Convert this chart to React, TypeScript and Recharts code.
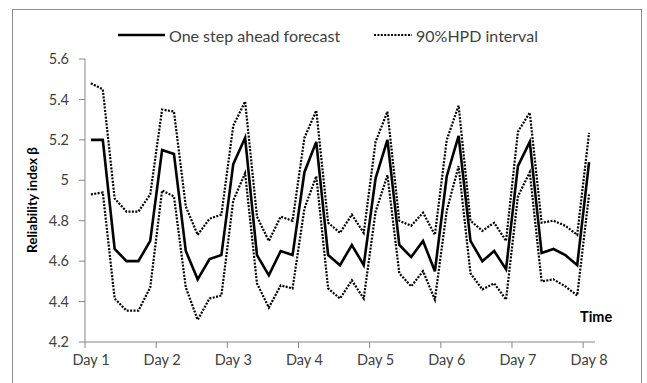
import React from "react";
import { LineChart, Line, XAxis, YAxis } from "recharts";

const dayLabels = ["Day 1", "Day 2", "Day 3", "Day 4", "Day 5", "Day 6", "Day 7", "Day 8"];
const dayTicks = [-0.5, 5.5, 11.5, 17.5, 23.5, 29.5, 35.5, 41.5];
const yTicks = [4.2, 4.4, 4.6, 4.8, 5.0, 5.2, 5.4, 5.6];

const forecast = [
  5.2, 5.2, 4.66, 4.6, 4.6, 4.7,
  5.15, 5.13, 4.65, 4.51, 4.61, 4.63,
  5.08, 5.21, 4.63, 4.53, 4.65, 4.63,
  5.04, 5.19, 4.63, 4.58, 4.68, 4.58,
  5.01, 5.2, 4.68, 4.62, 4.7, 4.55,
  5.02, 5.22, 4.7, 4.6, 4.65, 4.56,
  5.07, 5.19, 4.64, 4.66, 4.63, 4.58,
  5.09,
];
const upper = [
  5.48, 5.45, 4.91, 4.845, 4.845, 4.93,
  5.35, 5.34, 4.87, 4.73, 4.81, 4.83,
  5.27, 5.39, 4.82, 4.7, 4.82, 4.8,
  5.21, 5.345, 4.79, 4.74, 4.83, 4.74,
  5.19, 5.34, 4.8, 4.775, 4.84, 4.73,
  5.2, 5.37, 4.8, 4.75, 4.79, 4.7,
  5.24, 5.335, 4.79, 4.8, 4.775, 4.73,
  5.235,
];
const lower = [
  4.93, 4.94, 4.415, 4.355, 4.355, 4.47,
  4.95, 4.92, 4.47, 4.31, 4.415, 4.43,
  4.9, 5.035, 4.49, 4.37, 4.48, 4.465,
  4.86, 5.02, 4.465, 4.415, 4.505, 4.415,
  4.845, 5.025, 4.54, 4.475, 4.55, 4.41,
  4.85, 5.07, 4.54, 4.46, 4.49, 4.41,
  4.92, 5.04, 4.5, 4.51, 4.475, 4.43,
  4.93,
];

const data = forecast.map((f, i) => ({ x: i, forecast: f, upper: upper[i], lower: lower[i] }));

const FONT = "Lato, 'Open Sans', sans-serif";
const AXIS = "#868686";
const TXT = "#404040";

export default function App() {
  return (
    <div style={{ position: "absolute", left: 0, top: 0, width: 647, height: 383, background: "#fff", overflow: "hidden", fontFamily: FONT }}>
      <div style={{ position: "absolute", left: 12, top: 9, width: 630, height: 400, border: "1px solid #8c8c8c", boxSizing: "border-box" }} />
      <div style={{ position: "absolute", left: 0, top: 0 }}>
        <LineChart width={647} height={383} data={data} margin={{ top: 59, right: 52, bottom: 0, left: 0 }}>
          <XAxis
            type="number"
            dataKey="x"
            domain={[-0.5, 42.5]}
            ticks={dayTicks}
            tickFormatter={(v: number) => dayLabels[Math.round((v + 0.5) / 6)]}
            height={41}
            tickSize={6}
            tickMargin={7}
            tick={{ dx: 6, fill: TXT, fontSize: 14.5, fontFamily: FONT }}
            axisLine={{ stroke: AXIS }}
            tickLine={{ stroke: AXIS }}
          />
          <YAxis
            type="number"
            domain={[4.2, 5.6]}
            ticks={yTicks}
            tickFormatter={(v: number) => (Math.abs(v - 5) < 1e-9 ? "5" : v.toFixed(1))}
            width={85}
            tickSize={6}
            tickMargin={10}
            tick={{ fill: TXT, fontSize: 14.5, fontFamily: FONT }}
            axisLine={{ stroke: AXIS }}
            tickLine={{ stroke: AXIS }}
          />
          <Line type="linear" dataKey="upper" stroke="#000" strokeWidth={2.2} strokeDasharray="2 1.4" dot={false} isAnimationActive={false} />
          <Line type="linear" dataKey="lower" stroke="#000" strokeWidth={2.2} strokeDasharray="2 1.4" dot={false} isAnimationActive={false} />
          <Line type="linear" dataKey="forecast" stroke="#000" strokeWidth={2.6} dot={false} isAnimationActive={false} />
        </LineChart>
      </div>
      <svg width={647} height={383} style={{ position: "absolute", left: 0, top: 0, pointerEvents: "none" }}>
        <line x1={118} y1={35} x2={165} y2={35} stroke="#000" strokeWidth={2.5} />
        <text x={169} y={35} dominantBaseline="central" fontSize={16} fill={TXT} fontFamily={FONT}>One step ahead forecast</text>
        <line x1={374} y1={35} x2={412} y2={35} stroke="#000" strokeWidth={2} strokeDasharray="2 1.4" />
        <text x={416} y={35} dominantBaseline="central" fontSize={16} fill={TXT} fontFamily={FONT}>90%HPD interval</text>
        <text x={32} y={200} transform="rotate(-90 32 200)" textAnchor="middle" dominantBaseline="central" fontSize={13.5} fontWeight="bold" fill="#000" fontFamily={FONT}>Reliability index β</text>
        <text x={580} y={316} dominantBaseline="central" fontSize={14.5} fontWeight="bold" fill="#000" fontFamily={FONT}>Time</text>
      </svg>
    </div>
  );
}
